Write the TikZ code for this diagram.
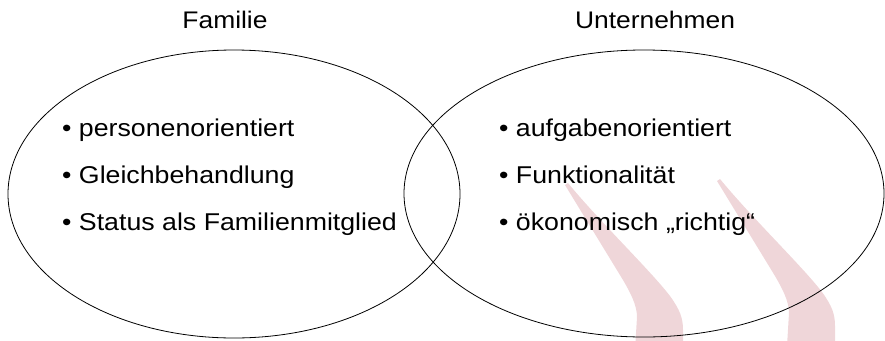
\documentclass[tikz,border=0pt]{standalone}
\usepackage{fontspec}
\setmainfont{Liberation Sans}[FakeStretch=1.1]
\usetikzlibrary{shapes.geometric}
\definecolor{wmpink}{RGB}{239,214,217}
\tikzset{
  setellipse/.style={ellipse, draw=black, line width=0.8pt, inner sep=0pt},
  titletext/.style={anchor=base, inner sep=0pt, font=\fontsize{24}{28}\selectfont},
  itemtext/.style={anchor=base west, inner sep=0pt, font=\fontsize{24.3}{28}\selectfont},
  wmshape/.style={fill=wmpink, draw=none}
}
\newcommand{\wmpath}{(565,185) -- (623,280) .. controls (630,292) and (637,305) .. (637,317) -- (635,350) -- (683,350) -- (683,330) .. controls (683,318) and (680,310) .. (670,296) .. controls (650,270) and (600,222) .. (568,183) -- cycle}
\begin{document}
\begin{tikzpicture}[x=1pt,y=-1pt]
\useasboundingbox (0,0) rectangle (885,340);
\clip (0,0) rectangle (885,340);
% watermark quote shapes
\fill[wmshape] \wmpath;
\begin{scope}[shift={(152,-4)}]
\fill[wmshape] \wmpath;
\end{scope}
% sets
\node[setellipse, minimum width=452pt, minimum height=288pt] (fam) at (234,194) {};
\node[setellipse, minimum width=480pt, minimum height=287pt] (unt) at (644,193.5) {};
% titles
\node[titletext] (tfam) at (225,28) {Familie};
\node[titletext] (tunt) at (655,28) {Unternehmen};
% items
\node[itemtext] (f1) at (62,136) {• personenorientiert};
\node[itemtext] (f2) at (62,183) {• Gleichbehandlung};
\node[itemtext] (f3) at (62,230) {• Status als Familienmitglied};
\node[itemtext] (u1) at (499,136) {• aufgabenorientiert};
\node[itemtext] (u2) at (499,183) {• Funktionalität};
\node[itemtext] (u3) at (499,230) {• ökonomisch „richtig“};
\end{tikzpicture}
\end{document}
